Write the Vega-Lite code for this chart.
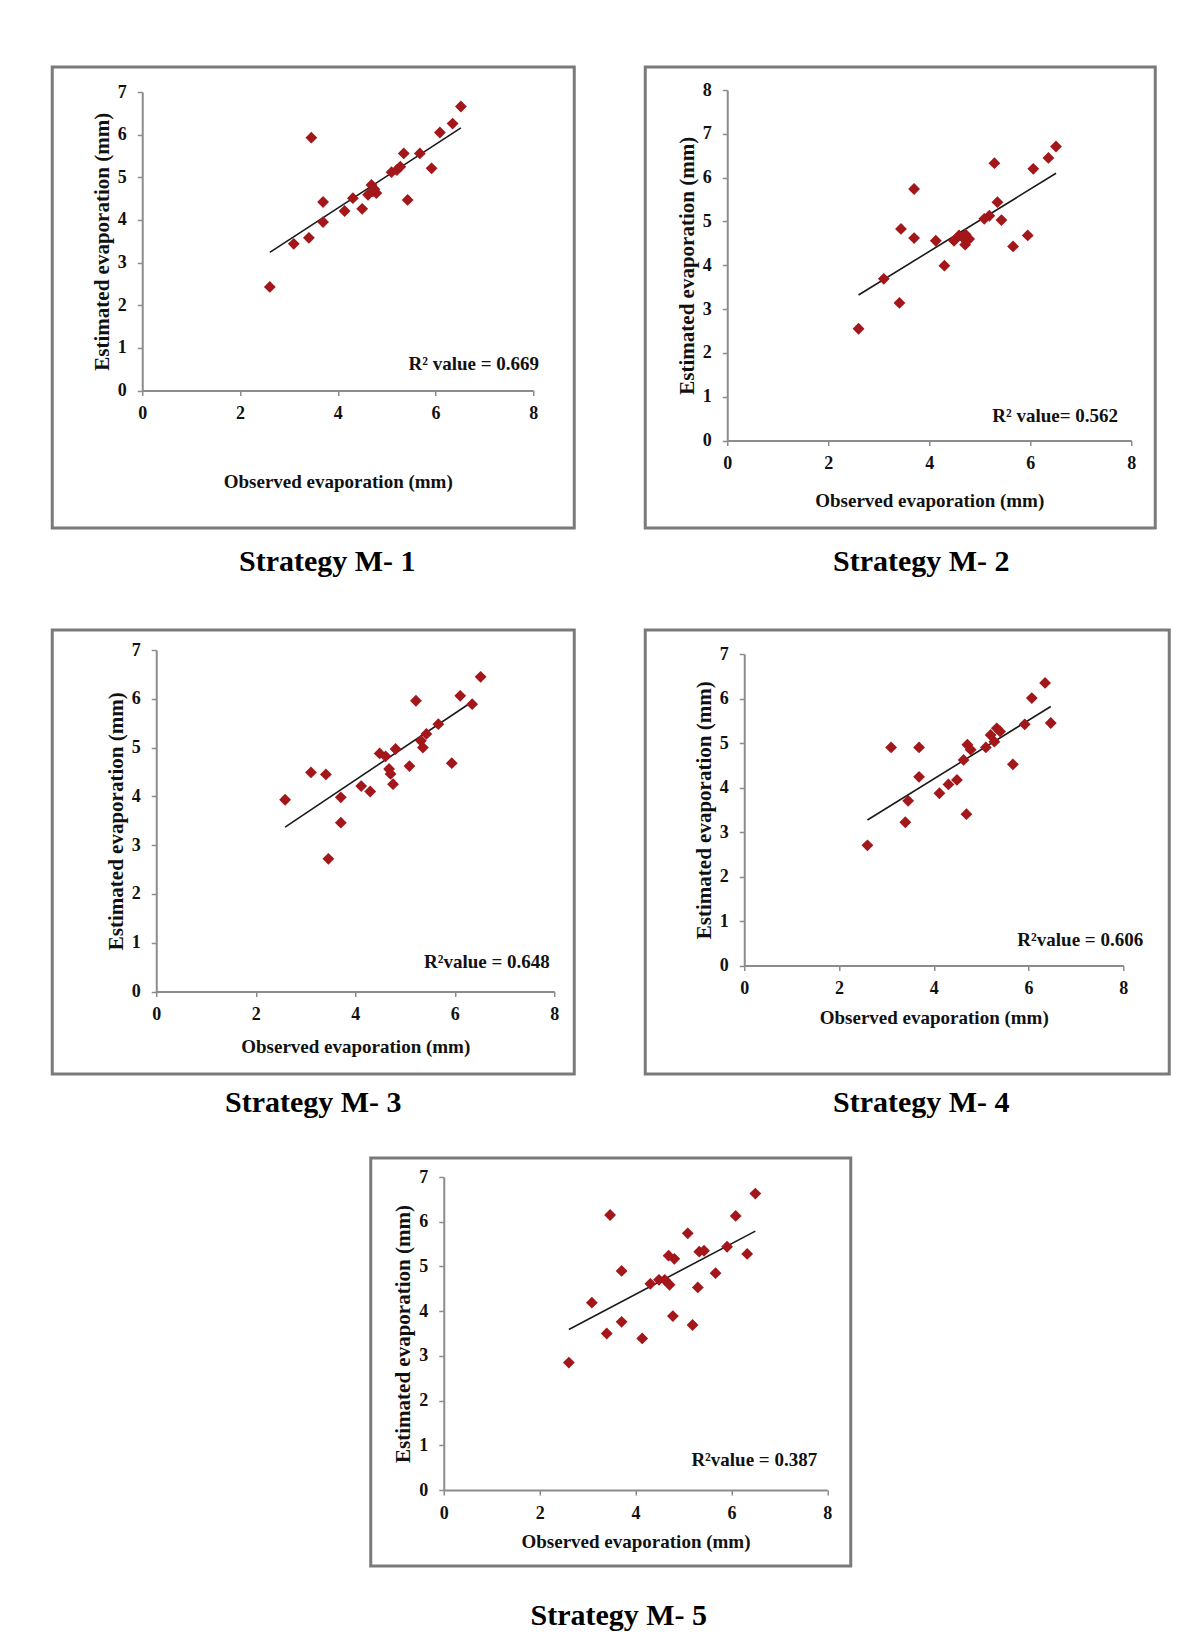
{
  "$schema": "https://vega.github.io/schema/vega-lite/v6.json",
  "padding": {"left": 50, "top": 65, "right": 5, "bottom": 5},
  "background": "white",
  "datasets": {
    "points": [
      {"strategy": "M-1", "observed": 2.61, "estimated": 2.43},
      {"strategy": "M-1", "observed": 3.10, "estimated": 3.44},
      {"strategy": "M-1", "observed": 3.41, "estimated": 3.58},
      {"strategy": "M-1", "observed": 3.46, "estimated": 5.93},
      {"strategy": "M-1", "observed": 3.70, "estimated": 4.42},
      {"strategy": "M-1", "observed": 3.70, "estimated": 3.95},
      {"strategy": "M-1", "observed": 4.14, "estimated": 4.21},
      {"strategy": "M-1", "observed": 4.31, "estimated": 4.51},
      {"strategy": "M-1", "observed": 4.50, "estimated": 4.26},
      {"strategy": "M-1", "observed": 4.62, "estimated": 4.59},
      {"strategy": "M-1", "observed": 4.69, "estimated": 4.82},
      {"strategy": "M-1", "observed": 4.72, "estimated": 4.67},
      {"strategy": "M-1", "observed": 4.75, "estimated": 4.72},
      {"strategy": "M-1", "observed": 4.79, "estimated": 4.63},
      {"strategy": "M-1", "observed": 5.10, "estimated": 5.12},
      {"strategy": "M-1", "observed": 5.21, "estimated": 5.17},
      {"strategy": "M-1", "observed": 5.28, "estimated": 5.25},
      {"strategy": "M-1", "observed": 5.35, "estimated": 5.56},
      {"strategy": "M-1", "observed": 5.43, "estimated": 4.47},
      {"strategy": "M-1", "observed": 5.68, "estimated": 5.56},
      {"strategy": "M-1", "observed": 5.92, "estimated": 5.21},
      {"strategy": "M-1", "observed": 6.09, "estimated": 6.05},
      {"strategy": "M-1", "observed": 6.35, "estimated": 6.26},
      {"strategy": "M-1", "observed": 6.52, "estimated": 6.66},

      {"strategy": "M-2", "observed": 2.60, "estimated": 2.55},
      {"strategy": "M-2", "observed": 3.10, "estimated": 3.69},
      {"strategy": "M-2", "observed": 3.41, "estimated": 3.14},
      {"strategy": "M-2", "observed": 3.44, "estimated": 4.83},
      {"strategy": "M-2", "observed": 3.70, "estimated": 5.74},
      {"strategy": "M-2", "observed": 3.70, "estimated": 4.62},
      {"strategy": "M-2", "observed": 4.13, "estimated": 4.56},
      {"strategy": "M-2", "observed": 4.30, "estimated": 3.99},
      {"strategy": "M-2", "observed": 4.49, "estimated": 4.56},
      {"strategy": "M-2", "observed": 4.59, "estimated": 4.68},
      {"strategy": "M-2", "observed": 4.66, "estimated": 4.64},
      {"strategy": "M-2", "observed": 4.71, "estimated": 4.47},
      {"strategy": "M-2", "observed": 4.72, "estimated": 4.70},
      {"strategy": "M-2", "observed": 4.79, "estimated": 4.60},
      {"strategy": "M-2", "observed": 5.09, "estimated": 5.06},
      {"strategy": "M-2", "observed": 5.19, "estimated": 5.13},
      {"strategy": "M-2", "observed": 5.29, "estimated": 6.33},
      {"strategy": "M-2", "observed": 5.35, "estimated": 5.44},
      {"strategy": "M-2", "observed": 5.43, "estimated": 5.03},
      {"strategy": "M-2", "observed": 5.66, "estimated": 4.43},
      {"strategy": "M-2", "observed": 5.95, "estimated": 4.68},
      {"strategy": "M-2", "observed": 6.06, "estimated": 6.20},
      {"strategy": "M-2", "observed": 6.36, "estimated": 6.45},
      {"strategy": "M-2", "observed": 6.51, "estimated": 6.71},

      {"strategy": "M-3", "observed": 2.59, "estimated": 3.93},
      {"strategy": "M-3", "observed": 3.11, "estimated": 4.49},
      {"strategy": "M-3", "observed": 3.41, "estimated": 4.45},
      {"strategy": "M-3", "observed": 3.46, "estimated": 2.72},
      {"strategy": "M-3", "observed": 3.71, "estimated": 3.98},
      {"strategy": "M-3", "observed": 3.71, "estimated": 3.46},
      {"strategy": "M-3", "observed": 4.12, "estimated": 4.21},
      {"strategy": "M-3", "observed": 4.30, "estimated": 4.10},
      {"strategy": "M-3", "observed": 4.49, "estimated": 4.88},
      {"strategy": "M-3", "observed": 4.61, "estimated": 4.82},
      {"strategy": "M-3", "observed": 4.68, "estimated": 4.56},
      {"strategy": "M-3", "observed": 4.71, "estimated": 4.46},
      {"strategy": "M-3", "observed": 4.76, "estimated": 4.25},
      {"strategy": "M-3", "observed": 4.81, "estimated": 4.97},
      {"strategy": "M-3", "observed": 5.09, "estimated": 4.62},
      {"strategy": "M-3", "observed": 5.22, "estimated": 5.96},
      {"strategy": "M-3", "observed": 5.32, "estimated": 5.14},
      {"strategy": "M-3", "observed": 5.36, "estimated": 5.00},
      {"strategy": "M-3", "observed": 5.43, "estimated": 5.28},
      {"strategy": "M-3", "observed": 5.67, "estimated": 5.48},
      {"strategy": "M-3", "observed": 5.94, "estimated": 4.68},
      {"strategy": "M-3", "observed": 6.11, "estimated": 6.06},
      {"strategy": "M-3", "observed": 6.35, "estimated": 5.89},
      {"strategy": "M-3", "observed": 6.52, "estimated": 6.45},

      {"strategy": "M-4", "observed": 2.60, "estimated": 2.70},
      {"strategy": "M-4", "observed": 3.10, "estimated": 4.90},
      {"strategy": "M-4", "observed": 3.40, "estimated": 3.22},
      {"strategy": "M-4", "observed": 3.46, "estimated": 3.70},
      {"strategy": "M-4", "observed": 3.69, "estimated": 4.90},
      {"strategy": "M-4", "observed": 3.69, "estimated": 4.24},
      {"strategy": "M-4", "observed": 4.12, "estimated": 3.87},
      {"strategy": "M-4", "observed": 4.31, "estimated": 4.07},
      {"strategy": "M-4", "observed": 4.49, "estimated": 4.17},
      {"strategy": "M-4", "observed": 4.63, "estimated": 4.62},
      {"strategy": "M-4", "observed": 4.69, "estimated": 3.40},
      {"strategy": "M-4", "observed": 4.71, "estimated": 4.96},
      {"strategy": "M-4", "observed": 4.78, "estimated": 4.85},
      {"strategy": "M-4", "observed": 5.10, "estimated": 4.90},
      {"strategy": "M-4", "observed": 5.20, "estimated": 5.18},
      {"strategy": "M-4", "observed": 5.28, "estimated": 5.03},
      {"strategy": "M-4", "observed": 5.33, "estimated": 5.33},
      {"strategy": "M-4", "observed": 5.40, "estimated": 5.26},
      {"strategy": "M-4", "observed": 5.67, "estimated": 4.52},
      {"strategy": "M-4", "observed": 5.92, "estimated": 5.42},
      {"strategy": "M-4", "observed": 6.07, "estimated": 6.01},
      {"strategy": "M-4", "observed": 6.35, "estimated": 6.35},
      {"strategy": "M-4", "observed": 6.47, "estimated": 5.45},

      {"strategy": "M-5", "observed": 2.61, "estimated": 2.85},
      {"strategy": "M-5", "observed": 3.09, "estimated": 4.19},
      {"strategy": "M-5", "observed": 3.40, "estimated": 3.50},
      {"strategy": "M-5", "observed": 3.47, "estimated": 6.15},
      {"strategy": "M-5", "observed": 3.71, "estimated": 4.90},
      {"strategy": "M-5", "observed": 3.71, "estimated": 3.76},
      {"strategy": "M-5", "observed": 4.14, "estimated": 3.39},
      {"strategy": "M-5", "observed": 4.31, "estimated": 4.61},
      {"strategy": "M-5", "observed": 4.49, "estimated": 4.70},
      {"strategy": "M-5", "observed": 4.61, "estimated": 4.70},
      {"strategy": "M-5", "observed": 4.69, "estimated": 5.24},
      {"strategy": "M-5", "observed": 4.71, "estimated": 4.59},
      {"strategy": "M-5", "observed": 4.78, "estimated": 3.89},
      {"strategy": "M-5", "observed": 4.81, "estimated": 5.17},
      {"strategy": "M-5", "observed": 5.09, "estimated": 5.74},
      {"strategy": "M-5", "observed": 5.19, "estimated": 3.69},
      {"strategy": "M-5", "observed": 5.30, "estimated": 4.53},
      {"strategy": "M-5", "observed": 5.33, "estimated": 5.33},
      {"strategy": "M-5", "observed": 5.43, "estimated": 5.35},
      {"strategy": "M-5", "observed": 5.67, "estimated": 4.85},
      {"strategy": "M-5", "observed": 5.91, "estimated": 5.44},
      {"strategy": "M-5", "observed": 6.09, "estimated": 6.13},
      {"strategy": "M-5", "observed": 6.33, "estimated": 5.28},
      {"strategy": "M-5", "observed": 6.50, "estimated": 6.63}
    ],
    "trend": [
      {"strategy": "M-1", "observed": 2.61, "estimated": 3.24},
      {"strategy": "M-1", "observed": 6.52, "estimated": 6.16},
      {"strategy": "M-2", "observed": 2.60, "estimated": 3.32},
      {"strategy": "M-2", "observed": 6.51, "estimated": 6.10},
      {"strategy": "M-3", "observed": 2.59, "estimated": 3.37},
      {"strategy": "M-3", "observed": 6.35, "estimated": 5.94},
      {"strategy": "M-4", "observed": 2.60, "estimated": 3.27},
      {"strategy": "M-4", "observed": 6.47, "estimated": 5.82},
      {"strategy": "M-5", "observed": 2.61, "estimated": 3.59},
      {"strategy": "M-5", "observed": 6.50, "estimated": 5.79}
    ],
    "labels": [
      {"strategy": "M-1", "label": "R² value = 0.669"},
      {"strategy": "M-2", "label": "R² value= 0.562"},
      {"strategy": "M-3", "label": "R²value = 0.648"},
      {"strategy": "M-4", "label": "R²value = 0.606"},
      {"strategy": "M-5", "label": "R²value = 0.387"}
    ]
  },
  "vconcat": [
    {
      "vconcat": [
        {
          "hconcat": [
            {
              "width": 522, "height": 461,
              "title": {"text": "Strategy M- 1", "orient": "bottom", "frame": "group", "baseline": "middle", "offset": 34, "dx": 14},
              "layer": [
                {"data": {"name": "trend"}, "transform": [{"filter": "datum.strategy === 'M-1'"}], "mark": {"type": "line", "color": "#1a1a1a", "strokeWidth": 1.6},
                 "encoding": {
                   "x": {"field": "observed", "type": "quantitative", "scale": {"domain": [0, 8], "range": [90, 481], "nice": false, "zero": false}, "axis": {"title": "Observed evaporation (mm)", "values": [0, 2, 4, 6, 8], "format": "d", "offset": -137.5, "titlePadding": 50}},
                   "y": {"field": "estimated", "type": "quantitative", "scale": {"domain": [0, 7], "range": [323.5, 25], "nice": false, "zero": false}, "axis": {"title": "Estimated  evaporation (mm)", "values": [0, 1, 2, 3, 4, 5, 6, 7], "format": "d", "offset": -90}}
                 }},
                {"data": {"name": "points"}, "transform": [{"filter": "datum.strategy === 'M-1'"}], "mark": {"type": "point", "shape": "diamond", "filled": true, "size": 140, "color": "#a3161a", "opacity": 1},
                 "encoding": {"x": {"field": "observed", "type": "quantitative"}, "y": {"field": "estimated", "type": "quantitative"}}},
                {"data": {"name": "labels"}, "transform": [{"filter": "datum.strategy === 'M-1'"}], "mark": {"type": "text", "align": "right", "baseline": "middle", "fontSize": 19, "fontWeight": "bold", "font": "Liberation Serif", "color": "#111111"},
                 "encoding": {"x": {"datum": 8.12}, "y": {"datum": 0.62}, "text": {"field": "label", "type": "nominal"}}}
              ]
            },
            {
              "width": 510, "height": 461,
              "title": {"text": "Strategy M- 2", "orient": "bottom", "frame": "group", "baseline": "middle", "offset": 34, "dx": 21},
              "layer": [
                {"data": {"name": "trend"}, "transform": [{"filter": "datum.strategy === 'M-2'"}], "mark": {"type": "line", "color": "#1a1a1a", "strokeWidth": 1.6},
                 "encoding": {
                   "x": {"field": "observed", "type": "quantitative", "scale": {"domain": [0, 8], "range": [82, 486], "nice": false, "zero": false}, "axis": {"title": "Observed evaporation (mm)", "values": [0, 2, 4, 6, 8], "format": "d", "offset": -87.5, "titlePadding": 19}},
                   "y": {"field": "estimated", "type": "quantitative", "scale": {"domain": [0, 8], "range": [373.5, 23], "nice": false, "zero": false}, "axis": {"title": "Estimated evaporation (mm)", "values": [0, 1, 2, 3, 4, 5, 6, 7, 8], "format": "d", "offset": -82}}
                 }},
                {"data": {"name": "points"}, "transform": [{"filter": "datum.strategy === 'M-2'"}], "mark": {"type": "point", "shape": "diamond", "filled": true, "size": 140, "color": "#a3161a", "opacity": 1},
                 "encoding": {"x": {"field": "observed", "type": "quantitative"}, "y": {"field": "estimated", "type": "quantitative"}}},
                {"data": {"name": "labels"}, "transform": [{"filter": "datum.strategy === 'M-2'"}], "mark": {"type": "text", "align": "right", "baseline": "middle", "fontSize": 19, "fontWeight": "bold", "font": "Liberation Serif", "color": "#111111"},
                 "encoding": {"x": {"datum": 7.74}, "y": {"datum": 0.57}, "text": {"field": "label", "type": "nominal"}}}
              ]
            }
          ]
        },
        {
          "hconcat": [
            {
              "width": 522, "height": 444,
              "title": {"text": "Strategy M- 3", "orient": "bottom", "frame": "group", "baseline": "middle", "offset": 28.5, "dx": 0},
              "layer": [
                {"data": {"name": "trend"}, "transform": [{"filter": "datum.strategy === 'M-3'"}], "mark": {"type": "line", "color": "#1a1a1a", "strokeWidth": 1.6},
                 "encoding": {
                   "x": {"field": "observed", "type": "quantitative", "scale": {"domain": [0, 8], "range": [104, 502], "nice": false, "zero": false}, "axis": {"title": "Observed evaporation (mm)", "values": [0, 2, 4, 6, 8], "format": "d", "offset": -82.5, "titlePadding": 14}},
                   "y": {"field": "estimated", "type": "quantitative", "scale": {"domain": [0, 7], "range": [361.5, 20], "nice": false, "zero": false}, "axis": {"title": "Estimated evaporation (mm)", "values": [0, 1, 2, 3, 4, 5, 6, 7], "format": "d", "offset": -104}}
                 }},
                {"data": {"name": "points"}, "transform": [{"filter": "datum.strategy === 'M-3'"}], "mark": {"type": "point", "shape": "diamond", "filled": true, "size": 140, "color": "#a3161a", "opacity": 1},
                 "encoding": {"x": {"field": "observed", "type": "quantitative"}, "y": {"field": "estimated", "type": "quantitative"}}},
                {"data": {"name": "labels"}, "transform": [{"filter": "datum.strategy === 'M-3'"}], "mark": {"type": "text", "align": "right", "baseline": "middle", "fontSize": 19, "fontWeight": "bold", "font": "Liberation Serif", "color": "#111111"},
                 "encoding": {"x": {"datum": 7.91}, "y": {"datum": 0.6}, "text": {"field": "label", "type": "nominal"}}}
              ]
            },
            {
              "width": 524, "height": 444,
              "title": {"text": "Strategy M- 4", "orient": "bottom", "frame": "group", "baseline": "middle", "offset": 28.5, "dx": 14},
              "layer": [
                {"data": {"name": "trend"}, "transform": [{"filter": "datum.strategy === 'M-4'"}], "mark": {"type": "line", "color": "#1a1a1a", "strokeWidth": 1.6},
                 "encoding": {
                   "x": {"field": "observed", "type": "quantitative", "scale": {"domain": [0, 8], "range": [99, 478], "nice": false, "zero": false}, "axis": {"title": "Observed evaporation (mm)", "values": [0, 2, 4, 6, 8], "format": "d", "offset": -108.5, "titlePadding": 11}},
                   "y": {"field": "estimated", "type": "quantitative", "scale": {"domain": [0, 7], "range": [335.5, 24], "nice": false, "zero": false}, "axis": {"title": "Estimated evaporation (mm)", "values": [0, 1, 2, 3, 4, 5, 6, 7], "format": "d", "offset": -99}}
                 }},
                {"data": {"name": "points"}, "transform": [{"filter": "datum.strategy === 'M-4'"}], "mark": {"type": "point", "shape": "diamond", "filled": true, "size": 140, "color": "#a3161a", "opacity": 1},
                 "encoding": {"x": {"field": "observed", "type": "quantitative"}, "y": {"field": "estimated", "type": "quantitative"}}},
                {"data": {"name": "labels"}, "transform": [{"filter": "datum.strategy === 'M-4'"}], "mark": {"type": "text", "align": "right", "baseline": "middle", "fontSize": 19, "fontWeight": "bold", "font": "Liberation Serif", "color": "#111111"},
                 "encoding": {"x": {"datum": 8.42}, "y": {"datum": 0.57}, "text": {"field": "label", "type": "nominal"}}}
              ]
            }
          ]
        }
      ],
      "spacing": 49
    },
    {
      "width": 480, "height": 408,
      "title": {"text": "Strategy M- 5", "orient": "bottom", "frame": "group", "baseline": "middle", "offset": 49.5, "dx": 8},
      "layer": [
        {"data": {"name": "trend"}, "transform": [{"filter": "datum.strategy === 'M-5'"}], "mark": {"type": "line", "color": "#1a1a1a", "strokeWidth": 1.6},
         "encoding": {
           "x": {"field": "observed", "type": "quantitative", "scale": {"domain": [0, 8], "range": [73, 456.5], "nice": false, "zero": false}, "axis": {"title": "Observed evaporation (mm)", "values": [0, 2, 4, 6, 8], "format": "d", "offset": -76, "titlePadding": 10}},
           "y": {"field": "estimated", "type": "quantitative", "scale": {"domain": [0, 7], "range": [332, 19], "nice": false, "zero": false}, "axis": {"title": "Estimated evaporation (mm)", "values": [0, 1, 2, 3, 4, 5, 6, 7], "format": "d", "offset": -73}}
         }},
        {"data": {"name": "points"}, "transform": [{"filter": "datum.strategy === 'M-5'"}], "mark": {"type": "point", "shape": "diamond", "filled": true, "size": 140, "color": "#a3161a", "opacity": 1},
         "encoding": {"x": {"field": "observed", "type": "quantitative"}, "y": {"field": "estimated", "type": "quantitative"}}},
        {"data": {"name": "labels"}, "transform": [{"filter": "datum.strategy === 'M-5'"}], "mark": {"type": "text", "align": "right", "baseline": "middle", "fontSize": 19, "fontWeight": "bold", "font": "Liberation Serif", "color": "#111111"},
         "encoding": {"x": {"datum": 7.79}, "y": {"datum": 0.68}, "text": {"field": "label", "type": "nominal"}}}
      ]
    }
  ],
  "spacing": 37,
  "center": true,
  "config": {
    "font": "Liberation Serif",
    "concat": {"spacing": 67},
    "view": {"stroke": "#7a7a7a", "strokeWidth": 3},
    "axis": {
      "grid": false,
      "domainColor": "#8c8c8c",
      "domainWidth": 2,
      "tickColor": "#8c8c8c",
      "tickWidth": 1.5,
      "tickSize": 5,
      "labelFont": "Liberation Serif",
      "labelFontSize": 18,
      "labelFontWeight": "bold",
      "labelColor": "#111111",
      "labelFlush": false,
      "titleFont": "Liberation Serif",
      "titleFontWeight": "bold",
      "titleColor": "#111111"
    },
    "axisX": {"labelPadding": 9, "titleFontSize": 19},
    "axisY": {"labelPadding": 11, "titleFontSize": 21, "titlePadding": 5},
    "title": {"font": "Liberation Serif", "fontSize": 30, "fontWeight": "bold", "color": "#000000", "anchor": "middle"}
  }
}
